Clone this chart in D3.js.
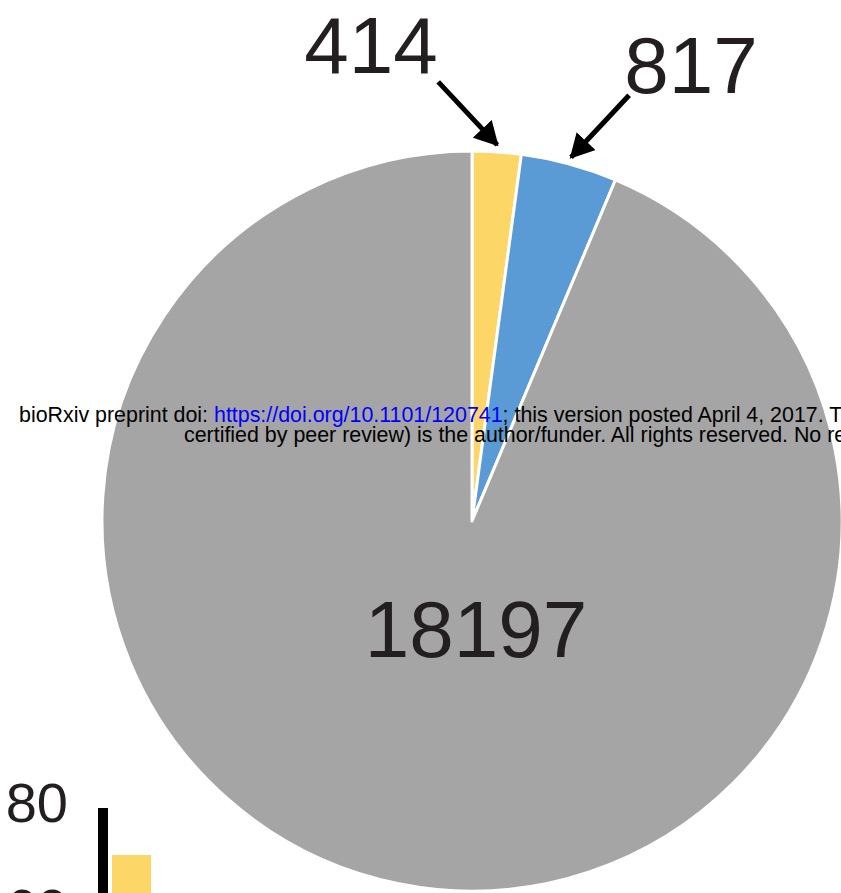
<!DOCTYPE html>
<html><head><meta charset="utf-8">
<script src="https://cdn.jsdelivr.net/npm/d3@7"></script>
<style>
html,body{margin:0;padding:0;background:#fff;overflow:hidden;}
svg{display:block;font-family:"Liberation Sans",Arial,sans-serif;}
</style></head>
<body>
<script>
// ---- data ----
const categories = ["group A", "group B", "other"];
const values = [414, 817, 18197];
const colors = ["#FDD668", "#5B9BD5", "#A5A5A5"];
const barCategories = ["group A"];
const barValues = [70];
const barTicks = [80, 60];
const headerLine1 = ["bioRxiv preprint doi: ", "https://doi.org/10.1101/120741", "; this version posted April 4, 2017. The copyright holder for this preprint (which was not"];
const headerLine2 = "certified by peer review) is the author/funder. All rights reserved. No reuse allowed without permission.";

const W = 841, H = 893;
const svg = d3.select("body").append("svg").attr("width", W).attr("height", H);

// ---- pie ----
const cx = 472, cy = 521, R = 370;
const pie = d3.pie().sort(null).value(d => d)(values);
const arc = d3.arc().innerRadius(0).outerRadius(R);
const g = svg.append("g").attr("transform", `translate(${cx},${cy})`);
g.selectAll("path").data(pie).join("path")
  .attr("d", arc)
  .attr("fill", (d, i) => colors[i])
  .attr("stroke", "#fff").attr("stroke-width", 3).attr("stroke-linejoin", "round");

// arrows pointing at the small slices
const defs = svg.append("defs");
defs.append("marker").attr("id", "ah")
  .attr("markerUnits", "userSpaceOnUse")
  .attr("viewBox", "0 -13 24 26").attr("refX", 22).attr("refY", 0)
  .attr("markerWidth", 24).attr("markerHeight", 26).attr("orient", "auto")
  .append("path").attr("d", "M0,-13L24,0L0,13Z").attr("fill", "#000");

const arrowOffsets = [[-59, -63], [58, -62]];
const labelPos = [[371, 73], [691, 93]];
[0, 1].forEach(i => {
  const d = pie[i];
  const a = (d.startAngle + d.endAngle) / 2;
  const tx = cx + (R + 7) * Math.sin(a), ty = cy - (R + 7) * Math.cos(a);
  svg.append("line")
    .attr("x1", tx + arrowOffsets[i][0]).attr("y1", ty + arrowOffsets[i][1])
    .attr("x2", tx).attr("y2", ty)
    .attr("stroke", "#000").attr("stroke-width", 5)
    .attr("marker-end", "url(#ah)");
  svg.append("text").attr("x", labelPos[i][0]).attr("y", labelPos[i][1])
    .attr("text-anchor", "middle").attr("font-size", 80).attr("fill", "#231F20")
    .text(values[i]);
});
svg.append("text").attr("x", 476).attr("y", 657)
  .attr("text-anchor", "middle").attr("font-size", 80).attr("fill", "#231F20")
  .text(values[2]);

// ---- header overlay ----
const t1 = svg.append("text").attr("x", 19).attr("y", 422).attr("font-size", 21.4).attr("fill", "#000");
t1.append("tspan").text(headerLine1[0]);
t1.append("tspan").attr("fill", "#0000FF").text(headerLine1[1]);
t1.append("tspan").text(headerLine1[2]);
svg.append("text").attr("x", 184).attr("y", 442).attr("font-size", 21.4).attr("fill", "#000").text(headerLine2);

// ---- small bar chart (bottom-left, cut off) ----
const y = d3.scaleLinear().domain([60, 80]).range([908, 802]);
const x = d3.scaleBand().domain(barCategories).range([112, 151]).padding(0);
svg.append("g").selectAll("rect").data(barValues).join("rect")
  .attr("x", (d, i) => x(barCategories[i])).attr("width", x.bandwidth())
  .attr("y", d => y(d)).attr("height", d => H + 50 - y(d))
  .attr("fill", colors[0]);
svg.append("rect").attr("x", 98).attr("y", 808).attr("width", 10).attr("height", H).attr("fill", "#000");
svg.append("g").selectAll("text").data(barTicks).join("text")
  .attr("x", 68).attr("y", d => y(d)).attr("dy", "0.36em")
  .attr("text-anchor", "end").attr("font-size", 56).attr("fill", "#231F20")
  .text(d => d);
</script>
</body></html>
